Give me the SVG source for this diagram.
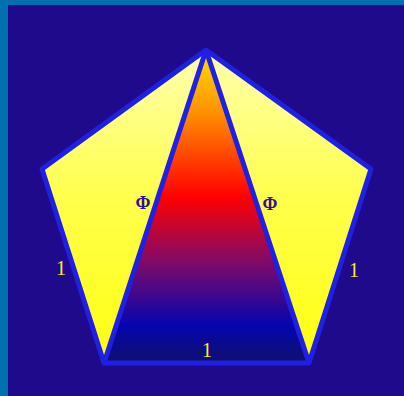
<svg xmlns="http://www.w3.org/2000/svg" width="404" height="396" viewBox="0 0 404 396">
<style>
.edge{fill:none;stroke:#1f1fe6;stroke-width:5;stroke-linejoin:round}
.phi{font-family:"Liberation Serif","DejaVu Serif",serif;font-size:18px;font-weight:bold;fill:#2a1496;text-anchor:middle}
.one{font-family:"Liberation Serif","DejaVu Serif",serif;font-size:20px;fill:#ffe82a;text-anchor:middle}
</style>
<defs>
<linearGradient id="side" x1="0" y1="50" x2="0" y2="363" gradientUnits="userSpaceOnUse">
<stop offset="0" stop-color="#ffffb0"/>
<stop offset="0.45" stop-color="#ffff50"/>
<stop offset="1" stop-color="#ffff10"/>
</linearGradient>
<linearGradient id="mid" x1="0" y1="50" x2="0" y2="363" gradientUnits="userSpaceOnUse">
<stop offset="0" stop-color="#ffe000"/>
<stop offset="0.2" stop-color="#ff9000"/>
<stop offset="0.47" stop-color="#ff0000"/>
<stop offset="0.66" stop-color="#8a0a60"/>
<stop offset="0.88" stop-color="#0505b0"/>
<stop offset="1" stop-color="#10106a"/>
</linearGradient>
</defs>
<rect x="0" y="0" width="404" height="396" fill="#1e0a8a"/>
<rect x="0" y="0" width="404" height="5" fill="#0070b0"/>
<rect x="0" y="0" width="8" height="396" fill="#0070b0"/>
<g id="left-triangle">
<polygon points="206,50 42,169 104,363" fill="url(#side)"/>
</g>
<g id="right-triangle">
<polygon points="206,50 371,169 309,363" fill="url(#side)"/>
</g>
<g id="middle-triangle">
<polygon points="206,50 104,363 309,363" fill="url(#mid)"/>
</g>
<g id="edges">
<polygon class="edge" points="206,50 371,169 309,363 104,363 42,169"/>
<line class="edge" x1="206" y1="50" x2="104" y2="363"/>
<line class="edge" x1="206" y1="50" x2="309" y2="363"/>
</g>
<g id="labels">
<text class="phi" x="143" y="209">Φ</text>
<text class="phi" x="270" y="210">Φ</text>
<text class="one" x="61" y="275">1</text>
<text class="one" x="354" y="277">1</text>
<text class="one" x="207" y="357">1</text>
</g>
</svg>
